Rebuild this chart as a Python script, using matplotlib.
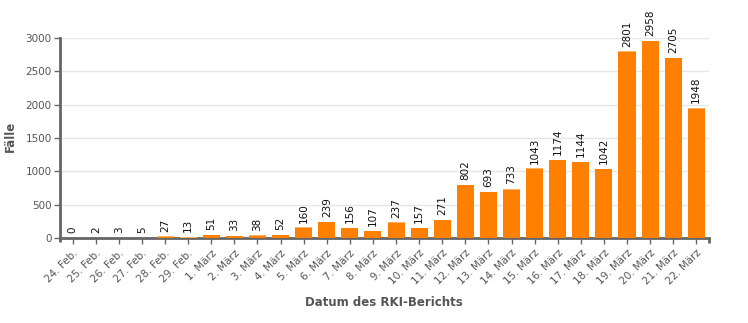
import matplotlib
matplotlib.use("Agg")
import matplotlib.pyplot as plt

dates = ["24. Feb.", "25. Feb.", "26. Feb.", "27. Feb.", "28. Feb.", "29. Feb.",
         "1. März", "2. März", "3. März", "4. März", "5. März", "6. März", "7. März",
         "8. März", "9. März", "10. März", "11. März", "12. März", "13. März",
         "14. März", "15. März", "16. März", "17. März", "18. März", "19. März",
         "20. März", "21. März", "22. März"]
cases = [0, 2, 3, 5, 27, 13, 51, 33, 38, 52, 160, 239, 156, 107, 237, 157, 271,
         802, 693, 733, 1043, 1174, 1144, 1042, 2801, 2958, 2705, 1948]
yticks = [0, 500, 1000, 1500, 2000, 2500, 3000]

plt.rcParams['font.family'] = ['DejaVu Sans']
fig = plt.figure(figsize=(7.48, 3.23), dpi=100)
ax = fig.add_axes([60/748, 1-238/323, (709-60)/748, 200/323])

x = list(range(len(dates)))
ax.bar(x, cases, width=0.74, color='#FF8000', zorder=3)
ax.bar(x, [6]*len(cases), bottom=[c-6 for c in cases], width=0.74, color='#FFB060', zorder=3.5)
for xi, v in zip(x, cases):
    ax.text(xi, v + 70, str(v), rotation=90, ha='center', va='bottom',
            fontsize=7.5, color='#111111', clip_on=False)

ax.set_xlim(-0.55, len(dates) - 0.45)
ax.set_ylim(0, 3000)
ax.set_yticks(yticks)
ax.set_yticklabels([str(t) for t in yticks], fontsize=7.5, color='#555555')
ax.set_xticks(x)
ax.set_xticklabels(dates, rotation=45, ha='right', rotation_mode='anchor',
                   fontsize=7.5, color='#555555')
ax.tick_params(axis='x', length=4, width=1, color='#666666', pad=3)
ax.tick_params(axis='y', length=4, width=1, color='#666666', pad=2)
ax.grid(axis='y', color='#e6e6e6', linewidth=1, zorder=0)
for s in ['top', 'right']:
    ax.spines[s].set_visible(False)
for s in ['left', 'bottom']:
    ax.spines[s].set_color('#666666')
    ax.spines[s].set_linewidth(2)
# small end tick at right end of x axis
ax.plot([1, 1], [0, -0.025], transform=ax.transAxes, color='#666666',
        linewidth=2, clip_on=False, solid_capstyle='butt')
ax.plot([0, 0], [0, -0.02], transform=ax.transAxes, color='#666666',
        linewidth=2, clip_on=False, solid_capstyle='butt')
fig.text(384/748, 1-303/323, 'Datum des RKI-Berichts', ha='center', va='center',
         fontsize=8.5, fontweight='bold', color='#555555')
fig.text(10/748, 1-136/323, 'Fälle', rotation=90, ha='center', va='center',
         fontsize=8.5, fontweight='bold', color='#555555')
fig.savefig('out.png', dpi=100)
